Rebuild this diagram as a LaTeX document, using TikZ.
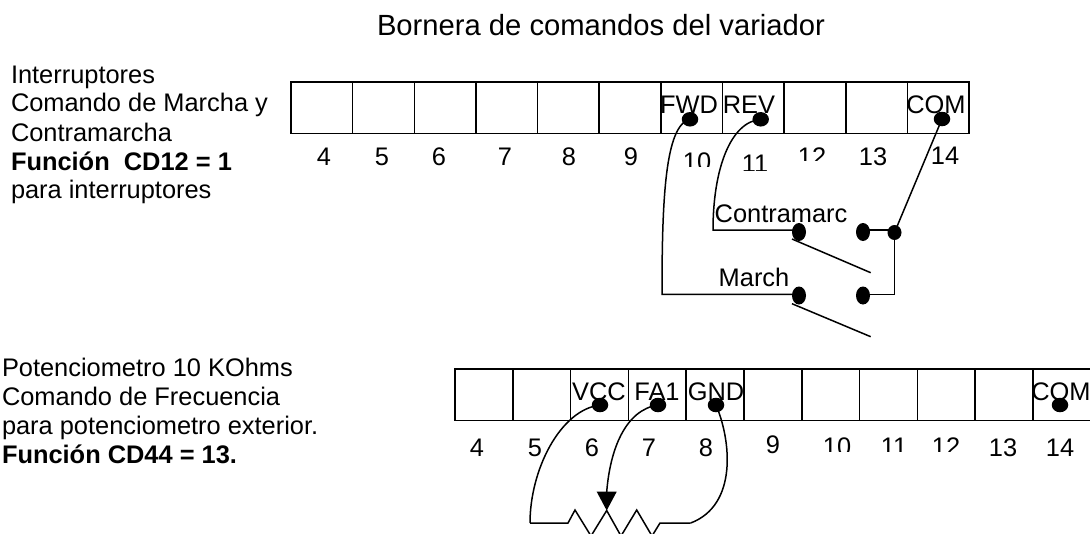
\documentclass[tikz,border=0pt]{standalone}
\usepackage{fontspec}
\setmainfont{Liberation Sans}
\usetikzlibrary{shapes.geometric}
\tikzset{
  x=1pt,y=-1pt,
  cellbox/.style={draw=black,line width=1.5pt,minimum height=51.5pt,inner sep=0pt,outer sep=0pt},
  topcell/.style={cellbox,minimum width=61.64pt},
  lowcell/.style={cellbox,minimum width=57.8pt},
  txt/.style={font=\fontsize{25.4}{29}\selectfont,inner sep=0pt,outer sep=0pt,text=black},
  lab/.style={txt,anchor=base west},
  num/.style={txt,anchor=base},
  bold/.style={txt,anchor=base west,font=\fontsize{25.4}{29}\selectfont\bfseries},
  dotnode/.style={ellipse,fill=black,draw=none,inner sep=0pt,minimum width=16.5pt,minimum height=14.5pt},
  swdot/.style={ellipse,fill=black,draw=none,inner sep=0pt,minimum width=14pt,minimum height=18pt},
  wire/.style={draw=black,line width=1.5pt,line join=miter},
}
\begin{document}
\begin{tikzpicture}
\useasboundingbox (0,0) rectangle (1090,533);
\clip (0,0) rectangle (1090,533);
% title
\node[txt,anchor=base,font=\fontsize{29.2}{33}\selectfont] (title) at (601,35) {Bornera de comandos del variador};
% left notes
\node[lab] (a1) at (11,83) {Interruptores};
\node[lab] (a2) at (11,111.7) {Comando de Marcha y};
\node[lab] (a3) at (11,141) {Contramarcha};
\node[bold] (a4) at (11,170) {Función\ \ CD12 = 1};
\node[lab] (a5) at (11,198.5) {para interruptores};
\node[lab] (b1) at (2,376.7) {Potenciometro 10 KOhms};
\node[lab] (b2) at (2,405) {Comando de Frecuencia};
\node[lab] (b3) at (2,434.5) {para potenciometro exterior.};
\node[bold] (b4) at (2,463) {Función CD44 = 13.};
% terminal strips
\foreach \i in {4,...,14}{
  \node[topcell] (t\i) at ({291+(\i-4)*61.64+30.82},107.8) {};
  \node[lowcell] (u\i) at ({455+(\i-4)*57.8+28.9},394.7) {};
}
% cell labels
\node[num] (fwdt) at (689,113) {FWD};
\node[num] (revt) at (749,113) {REV};
\node[num] (comt) at (936,113) {COM};
\node[num] (vcct) at (599,400) {VCC};
\node[num] (fa1t) at (657,400) {FA1};
\node[num] (gndt) at (716,400) {GND};
\node[num] (comu) at (1061,400) {COM};
% top numbers
\node[num] (n4) at (324,165) {4};
\node[num] (n5) at (382,165) {5};
\node[num] (n6) at (439,165) {6};
\node[num] (n7) at (505,165) {7};
\node[num] (n8) at (569,165) {8};
\node[num] (n9) at (631,165) {9};
\begin{scope}
  \clip (675,140) rectangle (720,166);
  \node[num] (n10) at (697,170.7) {10};
\end{scope}
\begin{scope}
  \clip (735,140) rectangle (775,170);
  \node[num] (n11) at (755,172) {11};
\end{scope}
\begin{scope}
  \clip (790,140) rectangle (835,160.5);
  \node[num] (n12) at (812,165) {12};
\end{scope}
\node[num] (n13) at (873,165) {13};
\node[num] (n14) at (945,164.5) {14};
% lower numbers
\node[num] (m4) at (477,456) {4};
\node[num] (m5) at (535,456) {5};
\node[num] (m6) at (592,456) {6};
\node[num] (m7) at (649,456) {7};
\node[num] (m8) at (706,456) {8};
\node[num] (m9) at (773,453) {9};
\begin{scope}
  \clip (815,430) rectangle (860,451.7);
  \node[num] (m10) at (837,455) {10};
\end{scope}
\begin{scope}
  \clip (874,430) rectangle (914,451.7);
  \node[num] (m11) at (894,455) {11};
\end{scope}
\begin{scope}
  \clip (925,430) rectangle (968,451);
  \node[num] (m12) at (946,455) {12};
\end{scope}
\node[num] (m13) at (1003,456) {13};
\node[num] (m14) at (1060,456) {14};
% switch labels
\node[num] (contra) at (781,222.7) {Contramarc};
\node[num] (march) at (754,286.7) {March};
% dots
\node[dotnode] (fwd) at (690,119.3) {};
\node[dotnode] (rev) at (760.7,119.3) {};
\node[dotnode] (comd) at (942,119) {};
\node[swdot] (c1) at (799,232) {};
\node[swdot] (c2) at (863,232) {};
\node[ellipse,fill=black,inner sep=0pt,minimum width=14pt,minimum height=15pt] (jn) at (894.5,232.5) {};
\node[swdot] (m1) at (799,295.5) {};
\node[swdot] (m2) at (863,295.5) {};
\node[dotnode] (vcc) at (600,405) {};
\node[dotnode] (fa1) at (658,405) {};
\node[dotnode] (gnd) at (716,405) {};
\node[dotnode] (comb) at (1060,405) {};
% helper points
\coordinate (fwdc) at (662,294.3);
\coordinate (revc) at (713,230);
\coordinate (jd) at (894.5,294.3);
\coordinate (bl1s) at (792,239);
\coordinate (bl1e) at (870.7,272.7);
\coordinate (bl2s) at (792,303.7);
\coordinate (bl2e) at (870.7,336.7);
\coordinate (pl) at (530,523);
\coordinate (pr) at (690.7,523);
\coordinate (tip) at (606.7,510.5);
\coordinate (tb) at (606.7,492);
% connectors
\draw[wire] (fwd.center) .. controls (665,125) and (662,200) .. (fwdc) -- (fwdc -| m1.center);
\draw[wire] (rev.center) .. controls (730,122) and (713,170) .. (revc) -- (revc -| c1.center);
\draw[wire] (comd.center) -- (jn.center);
\draw[wire] (c2.center |- revc) -- (jn.center |- revc);
\draw[wire] (jn.center) -- (jd) -- (jd -| m2.center);
\draw[wire] (bl1s) -- (bl1e);
\draw[wire] (bl2s) -- (bl2e);
\draw[wire] (vcc.center) .. controls (560,410) and (530,470) .. (pl);
\draw[wire] (fa1.center) .. controls (625,410) and (610,450) .. (tb);
\draw[wire] (gnd.center) .. controls (731,440) and (738,505) .. (pr);
\draw[wire] (pl) -- (568,523) -- (575,510) -- (591,536) -- (tip) -- (621,536) -- (636.7,510) -- (652,536) -- (660,523) -- (pr);
\fill[black] (tip) -- (596.7,491.7) -- (616.7,491.7) -- cycle;
\end{tikzpicture}
\end{document}
